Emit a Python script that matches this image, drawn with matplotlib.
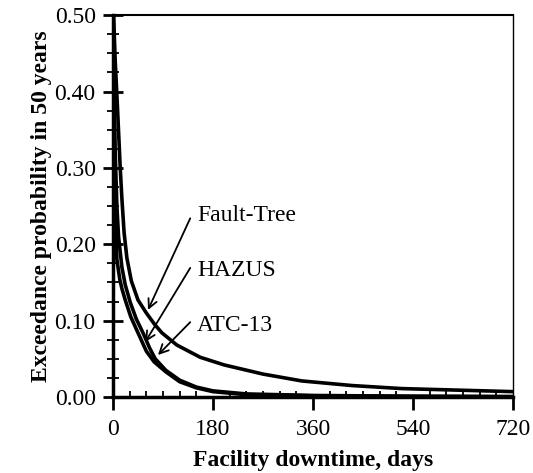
import numpy as np
import matplotlib.pyplot as plt
from matplotlib.ticker import MultipleLocator

plt.rcParams['font.family'] = ['Liberation Serif', 'DejaVu Serif']

# downtime (days) vs exceedance probability in 50 years
ft_days = [1, 4, 8, 13, 16, 20, 25, 33, 45, 60, 75, 88, 115, 157, 200, 270, 340, 430, 520, 620, 720]
ft_prob = [0.50, 0.44, 0.38, 0.30, 0.26, 0.215, 0.182, 0.152, 0.127, 0.110, 0.095, 0.084, 0.068, 0.052,
           0.042, 0.030, 0.021, 0.015, 0.011, 0.009, 0.007]

hazus_days = [0.5, 2, 4, 7, 10, 16, 22, 31, 42, 54, 66, 76, 95, 120, 150, 180, 240, 360, 540, 720]
hazus_prob = [0.50, 0.40, 0.32, 0.25, 0.21, 0.17, 0.147, 0.124, 0.102, 0.084, 0.064, 0.050, 0.035,
              0.022, 0.013, 0.008, 0.004, 0.002, 0.001, 0.0005]

atc_days = [0.3, 1.5, 3, 5, 7, 12, 16, 22, 32, 45, 60, 74, 95, 120, 150, 180, 240, 360, 540, 720]
atc_prob = [0.50, 0.40, 0.30, 0.22, 0.18, 0.155, 0.142, 0.127, 0.105, 0.084, 0.060, 0.046, 0.033,
            0.020, 0.012, 0.007, 0.003, 0.0015, 0.0008, 0.0004]

x_ticks = [0, 180, 360, 540, 720]
y_ticks = [0.0, 0.1, 0.2, 0.3, 0.4, 0.5]

labels = ['Fault-Tree', 'HAZUS', 'ATC-13']
arrow_tips = [(63, 0.114), (58, 0.072), (81, 0.055)]
arrow_starts = [(139, 0.234), (139, 0.169), (139, 0.098)]
label_pos = [(151, 0.237), (151, 0.165), (151, 0.094)]

fig = plt.figure(figsize=(5.33, 4.73), dpi=100)
ax = fig.add_axes([0.212, 0.1607, 0.7505, 0.8073])

for d, p in [(ft_days, ft_prob), (hazus_days, hazus_prob), (atc_days, atc_prob)]:
    ax.plot(d, p, color='black', lw=2.6, solid_capstyle='round')

for lab, tip, start, pos in zip(labels, arrow_tips, arrow_starts, label_pos):
    ax.annotate('', xy=tip, xytext=start,
                arrowprops=dict(arrowstyle='->', color='black', lw=1.3,
                                mutation_scale=16, shrinkA=0, shrinkB=0))
    ax.text(pos[0], pos[1], lab, fontsize=17, va='center', ha='left')

ax.set_xlim(0, 720)
ax.set_ylim(0, 0.5)
ax.set_xticks(x_ticks)
ax.xaxis.set_minor_locator(MultipleLocator(30))
ax.set_yticks(y_ticks)
ax.set_yticklabels(['%.2f' % v for v in y_ticks])
ax.yaxis.set_minor_locator(MultipleLocator(0.025))

ax.tick_params(axis='x', which='major', direction='out', length=9, width=2, labelsize=17, pad=7)
ax.tick_params(axis='x', which='minor', direction='in', length=4, width=1.3)
ax.tick_params(axis='y', which='major', direction='inout', length=15, width=2, labelsize=17, pad=5)
ax.tick_params(axis='y', which='minor', direction='inout', length=8, width=1.3)

ax.spines['left'].set_linewidth(2.5)
ax.spines['bottom'].set_linewidth(2.5)
ax.spines['top'].set_linewidth(1.5)
ax.spines['right'].set_linewidth(1.0)

ax.set_xlabel('Facility downtime, days', fontsize=17, fontweight='bold')
ax.xaxis.set_label_coords(0.5, -0.138)
ax.set_ylabel('Exceedance probability in 50 years', fontsize=17, fontweight='bold', labelpad=2)

fig.savefig('out.png', dpi=100)
